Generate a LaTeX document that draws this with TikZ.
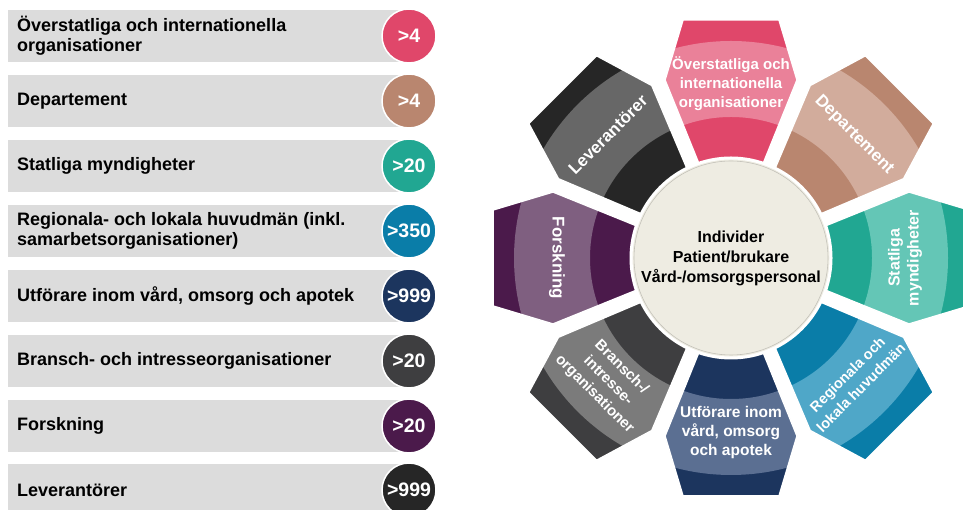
\documentclass[tikz,border=0pt]{standalone}
\usepackage{fontspec}
\setmainfont{Liberation Sans}
\usetikzlibrary{positioning}

\definecolor{boxgrey}{HTML}{DCDCDC}
\definecolor{hubfill}{HTML}{EEECE2}
\definecolor{hubline}{HTML}{C4C2BA}
\definecolor{pinkD}{HTML}{E0476A}   \definecolor{pinkL}{HTML}{EA8199}
\definecolor{brownD}{HTML}{B9866F}  \definecolor{brownL}{HTML}{D2AC9C}
\definecolor{tealD}{HTML}{21A792}   \definecolor{tealL}{HTML}{64C6B6}
\definecolor{blueD}{HTML}{0A7DA8}   \definecolor{blueL}{HTML}{4FA7C8}
\definecolor{navyD}{HTML}{1C355E}   \definecolor{navyL}{HTML}{5B6F92}
\definecolor{greyD}{HTML}{3E3E40}   \definecolor{greyL}{HTML}{7B7B7B}
\definecolor{plumD}{HTML}{4B1A4B}   \definecolor{plumL}{HTML}{7F5F80}
\definecolor{blackD}{HTML}{262626}  \definecolor{blackL}{HTML}{676767}

\tikzset{
  rowtext/.style={anchor=west, align=left, inner sep=0pt,
    font=\fontsize{18}{20}\selectfont\bfseries},
  count/.style={circle, minimum size=54pt, inner sep=0pt, draw=white,
    line width=1.5pt, text=white, font=\fontsize{19.5}{20}\selectfont\bfseries},
  hub/.style={circle, minimum size=200pt, inner sep=0pt, fill=hubfill,
    draw=white, line width=3pt, align=center,
    font=\fontsize{16}{20}\selectfont\bfseries},
  petaltext/.style={text=white, align=center, inner sep=0pt},
}

\begin{document}
\begin{tikzpicture}[x=1pt, y=1pt]
  \useasboundingbox (0,0) rectangle (963,510);
  \clip (0,0) rectangle (963,510);

  % list on the left
  \foreach \i/\y/\col/\num/\txt in {
      1/474/pinkD/{>4}/{Överstatliga och internationella\\organisationer},
      2/409/brownD/{>4}/{Departement},
      3/344/tealD/{>20}/{Statliga myndigheter},
      4/279/blueD/{>350}/{Regionala- och lokala huvudmän (inkl.\\samarbetsorganisationer)},
      5/214/navyD/{>999}/{Utförare inom vård, omsorg och apotek},
      6/149/greyD/{>20}/{Bransch- och intresseorganisationer},
      7/84/plumD/{>20}/{Forskning},
      8/20/blackD/{>999}/{Leverantörer}}{
    \fill[boxgrey] (8,\y-26) rectangle (400,\y+26);
    \node[rowtext] (row\i) at (17,\y) {\txt};
    \node[count, fill=\col] (num\i) at (409,\y) {\num};
  }

  % petals around the hub
  \foreach \i/\a/\dk/\lt/\rot/\fs/\txt in {
      1/90/pinkD/pinkL/0/15/{Överstatliga och\\internationella\\organisationer},
      2/45/brownD/brownL/-45/17/{Departement},
      3/0/tealD/tealL/90/16/{Statliga\\myndigheter},
      4/-45/blueD/blueL/45/14.5/{Regionala och\\lokala huvudmän},
      5/-90/navyD/navyL/0/15.5/{Utförare inom\\vård, omsorg\\och apotek},
      6/-135/greyD/greyL/-45/15/{Bransch-/\\intresse-\\organisationer},
      7/180/plumD/plumL/-90/17/{Forskning},
      8/135/blackD/blackL/45/17/{Leverantörer}}{
    \begin{scope}[shift={(731,252)}, rotate=\a]
      \begin{scope}
        \clip (94,-32) -- (178,-66) -- (238,-48) -- (238,48)
          -- (178,66) -- (94,32) -- cycle;
        \fill[\dk] (0,-80) rectangle (250,80);
        \fill[\lt, even odd rule] (0,0) circle (217) (0,0) circle (141);
      \end{scope}
      \draw[white, line width=1.5pt, line join=round]
        (94,-32) -- (178,-66) -- (238,-48) -- (238,48)
        -- (178,66) -- (94,32) -- cycle;
      \node[petaltext, rotate=\rot,
        font=\fontsize{\fs}{19}\selectfont\bfseries] (petal\i) at (174,0) {\txt};
    \end{scope}
  }

  % centre
  \node[hub] (hub) at (731,252) {Individer\\Patient/brukare\\Vård-/omsorgspersonal};
  \draw[hubline, line width=0.6pt] (hub.center) circle (97);
\end{tikzpicture}
\end{document}
